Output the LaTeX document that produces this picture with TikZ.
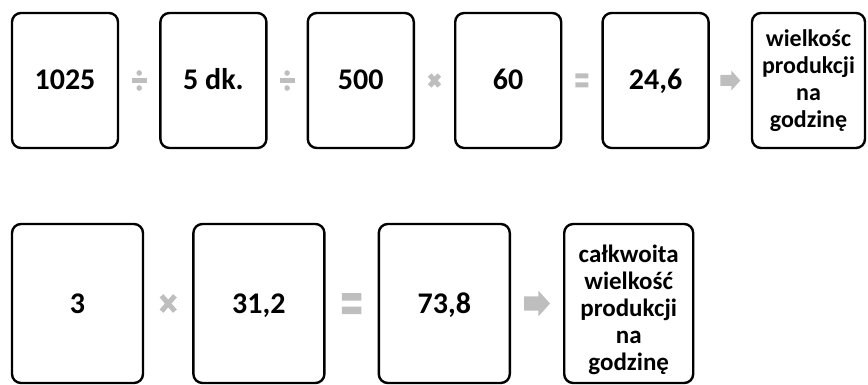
\documentclass[tikz,border=0pt]{standalone}
\usepackage{fontspec}
\setmainfont{Carlito}
\usepackage{tikz}
\usetikzlibrary{positioning, calc}
\definecolor{opgray}{RGB}{190,190,190}

\begin{document}
\begin{tikzpicture}[x=1pt, y=-1pt,
  box/.style={rectangle, draw=black, line width=2.4pt, rounded corners=9pt, fill=white, inner sep=0pt, align=center, font=\bfseries\fontsize{30}{32}\selectfont, text height=20pt, text depth=1pt},
  smallbox/.style={box, minimum width=106pt, minimum height=135pt},
  bigbox/.style={box, minimum width=131pt, minimum height=159pt},
  wordbox/.style={font=\bfseries\fontsize{#1}{27}\selectfont, text height=, text depth=},
  divsign/.pic={\fill[opgray] (-7.5,-2.2) rectangle (7.5,2.2);
    \fill[opgray] (0,-7.5) circle (2.8) (0,7.5) circle (2.8);},
  timessign/.pic={\draw[opgray, line width=5pt] (-4.8,-5.5) -- (4.8,5.5) (-4.8,5.5) -- (4.8,-5.5);},
  eqsign/.pic={\fill[opgray] (-6.5,-7) rectangle (6.5,-2) (-6.5,2) rectangle (6.5,7);},
  arrowsign/.pic={\fill[opgray] (-10,-5.5) -- (1,-5.5) -- (1,-10) -- (10,0) -- (1,10) -- (1,5.5) -- (-10,5.5) -- cycle;}
]
\useasboundingbox (0,0) rectangle (868,385);
% top row
\node[smallbox] (n1) at (65,80.5) {1025};
\node[smallbox, right=40pt of n1] (n2) {5 dk.};
\node[smallbox, right=39pt of n2] (n3) {500};
\node[smallbox, right=39pt of n3] (n4) {60};
\node[smallbox, right=39pt of n4] (n5) {24,6};
\node[smallbox, wordbox=24, minimum width=113pt, right=41pt of n5] (n6) {wielkośc\\produkcji\\na\\godzinę};
\pic at ($(n1.east)!0.5!(n2.west)$) {divsign};
\pic at ($(n2.east)!0.5!(n3.west)$) {divsign};
\pic at ($(n3.east)!0.5!(n4.west)$) {timessign};
\pic at ($(n4.east)!0.5!(n5.west)$) {eqsign};
\pic at ($(n5.east)!0.5!(n6.west)$) {arrowsign};
% bottom row
\node[bigbox] (r1) at (77.5,303.5) {3};
\node[bigbox, right=48pt of r1] (r2) {31,2};
\node[bigbox, right=52pt of r2] (r3) {73,8};
\node[bigbox, wordbox=25, minimum width=129pt, right=52pt of r3] (r4) {\rule{0pt}{30pt}całkwoita\\wielkość\\produkcji\\na\\godzinę};
\pic[scale=1.4] at ($(r1.east)!0.5!(r2.west)$) {timessign};
\pic[scale=1.5] at ($(r2.east)!0.5!(r3.west)$) {eqsign};
\pic[scale=1.3] at ($(r3.east)!0.5!(r4.west)$) {arrowsign};
\end{tikzpicture}
\end{document}
